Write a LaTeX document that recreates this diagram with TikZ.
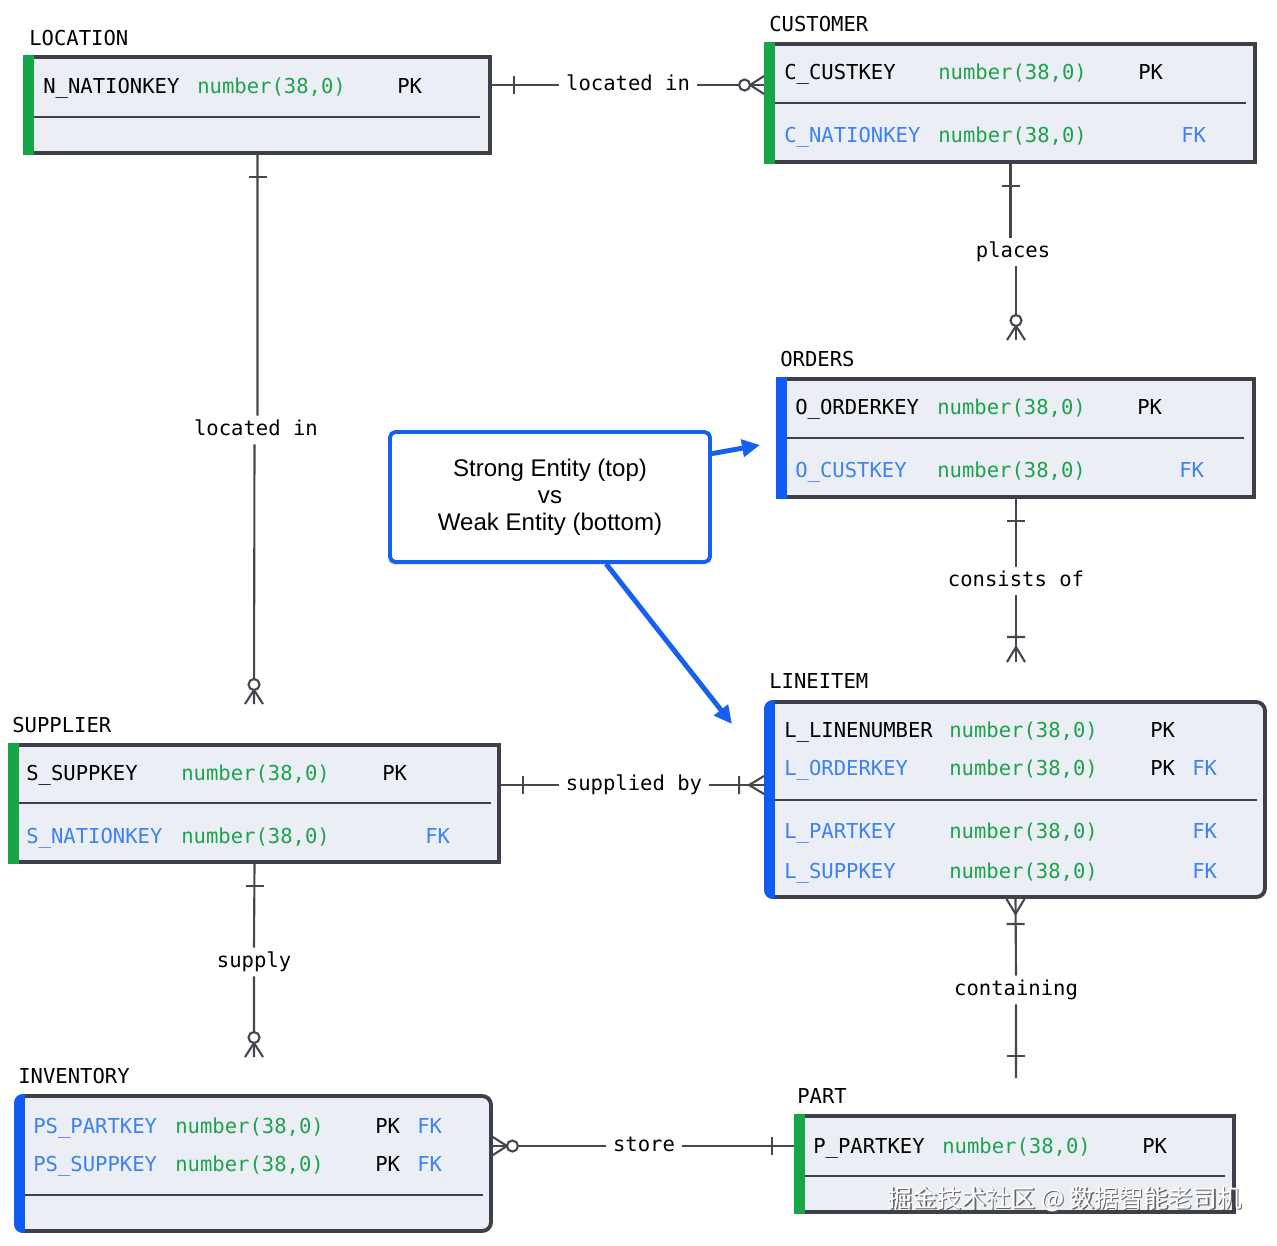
\documentclass[tikz,border=0pt]{standalone}
\usepackage{fontspec}
\setmainfont{Liberation Sans}
\setmonofont{DejaVu Sans Mono}
\newfontfamily\cjkfont{Noto Sans CJK SC}
\usetikzlibrary{fit,shadows,arrows.meta}

\definecolor{boxbg}{HTML}{ECEEF5}
\definecolor{boxline}{HTML}{3E4049}
\definecolor{strongbar}{HTML}{17A647}
\definecolor{weakbar}{HTML}{0F5CF2}
\definecolor{typegreen}{HTML}{1DA24D}
\definecolor{keyblue}{HTML}{3D82F0}
\definecolor{noteblue}{HTML}{1560F0}
\definecolor{relgray}{HTML}{45474F}

\begin{document}
\begin{tikzpicture}[x=0.02cm, y=-0.02cm,
    entity/.style={draw=boxline, line width=2.2pt, fill=boxbg, inner sep=0pt},
    enttitle/.style={anchor=base west, inner sep=0pt, font=\ttfamily\fontsize{11.7}{14}\selectfont},
    colcell/.style={anchor=base west, inner sep=0pt, font=\ttfamily\fontsize{11.7}{14}\selectfont},
    divider/.style={boxline, line width=1.3pt},
    relline/.style={draw=relgray, line width=1.2pt},
    rellabel/.style={font=\ttfamily\fontsize{11.7}{14}\selectfont, text height=9pt, text depth=3pt, inner xsep=4pt, inner ysep=2pt},
    notebox/.style={draw=noteblue, line width=2.2pt, fill=white, rounded corners=3pt, minimum width=6.4cm, minimum height=2.6cm, align=center, font=\fontsize{13.7}{15.3}\selectfont, drop shadow={opacity=0.3, shadow xshift=-1pt, shadow yshift=-1.5pt}},
    notearrow/.style={noteblue, line width=2.8pt, -{Triangle[length=0.36cm, width=0.34cm]}},
    barone/.pic={\draw[relline] (22,-9) -- (22,9);},
    zeromany/.pic={\draw[relline] (0,-9) -- (14,0) -- (0,9);
        \draw[relline, fill=white] (19.5,0) circle[radius=5.5];},
    onemany/.pic={\draw[relline] (0,-9) -- (15,0) -- (0,9) (25,-9) -- (25,9);}]

    \useasboundingbox (0,0) rectangle (1277,1245);

    % LOCATION
    \node[enttitle] (location-t) at (29,45) {LOCATION};
    \node[entity, fit={(25,57) (490,153)}] (location) {};
    \fill[strongbar] (23,55) rectangle (34,155);
    \draw[divider] (34,117) -- (480,117);
    \foreach \yy/\cname/\ink/\pk/\fk in {93/N\_NATIONKEY/black/PK/{}} {
        \node[colcell, text=\ink] (location-n\yy) at (43,\yy) {\cname};
        \node[colcell, text=typegreen] (location-t\yy) at (197,\yy) {number(38,0)};
        \node[colcell] (location-p\yy) at (397,\yy) {\pk};
    }

    % CUSTOMER
    \node[enttitle] (customer-t) at (769,31) {CUSTOMER};
    \node[entity, fit={(766,44) (1255,162)}] (customer) {};
    \fill[strongbar] (764,42) rectangle (775,164);
    \draw[divider] (775,103) -- (1246,103);
    \foreach \yy/\cname/\ink/\pk/\fk in {79/C\_CUSTKEY/black/PK/{}, 142/C\_NATIONKEY/keyblue/{}/FK} {
        \node[colcell, text=\ink] (customer-n\yy) at (784,\yy) {\cname};
        \node[colcell, text=typegreen] (customer-t\yy) at (938,\yy) {number(38,0)};
        \node[colcell] (customer-p\yy) at (1138,\yy) {\pk};
        \node[colcell, text=keyblue] (customer-f\yy) at (1181,\yy) {\fk};
    }

    % ORDERS
    \node[enttitle] (orders-t) at (780,366) {ORDERS};
    \node[entity, fit={(778,379) (1254,497)}] (orders) {};
    \fill[weakbar] (776,377) rectangle (787,499);
    \draw[divider] (787,438) -- (1244,438);
    \foreach \yy/\cname/\ink/\pk/\fk in {414/O\_ORDERKEY/black/PK/{}, 477/O\_CUSTKEY/keyblue/{}/FK} {
        \node[colcell, text=\ink] (orders-n\yy) at (795,\yy) {\cname};
        \node[colcell, text=typegreen] (orders-t\yy) at (937,\yy) {number(38,0)};
        \node[colcell] (orders-p\yy) at (1137,\yy) {\pk};
        \node[colcell, text=keyblue] (orders-f\yy) at (1179,\yy) {\fk};
    }

    % LINEITEM
    \node[enttitle] (lineitem-t) at (769,688) {LINEITEM};
    \node[entity, rounded corners=5pt, fit={(766,702) (1265,897)}] (lineitem) {};
    \begin{scope}
        \clip[rounded corners=5pt] (764,700) rectangle (1267,899);
        \fill[weakbar] (764,700) rectangle (775,899);
    \end{scope}
    \draw[divider] (775,800) -- (1257,800);
    \foreach \yy/\cname/\ink/\pk/\fk in {737/L\_LINENUMBER/black/PK/{}, 775/L\_ORDERKEY/keyblue/PK/FK,
            838/L\_PARTKEY/keyblue/{}/FK, 878/L\_SUPPKEY/keyblue/{}/FK} {
        \node[colcell, text=\ink] (lineitem-n\yy) at (784,\yy) {\cname};
        \node[colcell, text=typegreen] (lineitem-t\yy) at (949,\yy) {number(38,0)};
        \node[colcell] (lineitem-p\yy) at (1150,\yy) {\pk};
        \node[colcell, text=keyblue] (lineitem-f\yy) at (1192,\yy) {\fk};
    }

    % SUPPLIER
    \node[enttitle] (supplier-t) at (12,732) {SUPPLIER};
    \node[entity, fit={(10,745) (499,862)}] (supplier) {};
    \fill[strongbar] (8,743) rectangle (19,864);
    \draw[divider] (19,803) -- (491,803);
    \foreach \yy/\cname/\ink/\pk/\fk in {780/S\_SUPPKEY/black/PK/{}, 843/S\_NATIONKEY/keyblue/{}/FK} {
        \node[colcell, text=\ink] (supplier-n\yy) at (26,\yy) {\cname};
        \node[colcell, text=typegreen] (supplier-t\yy) at (181,\yy) {number(38,0)};
        \node[colcell] (supplier-p\yy) at (382,\yy) {\pk};
        \node[colcell, text=keyblue] (supplier-f\yy) at (425,\yy) {\fk};
    }

    % INVENTORY
    \node[enttitle] (inventory-t) at (18,1083) {INVENTORY};
    \node[entity, rounded corners=5pt, fit={(16,1096) (491,1231)}] (inventory) {};
    \begin{scope}
        \clip[rounded corners=5pt] (14,1094) rectangle (493,1233);
        \fill[weakbar] (14,1094) rectangle (25,1233);
    \end{scope}
    \draw[divider] (25,1195) -- (483,1195);
    \foreach \yy/\cname/\ink/\pk/\fk in {1133/PS\_PARTKEY/keyblue/PK/FK, 1171/PS\_SUPPKEY/keyblue/PK/FK} {
        \node[colcell, text=\ink] (inventory-n\yy) at (33,\yy) {\cname};
        \node[colcell, text=typegreen] (inventory-t\yy) at (175,\yy) {number(38,0)};
        \node[colcell] (inventory-p\yy) at (375,\yy) {\pk};
        \node[colcell, text=keyblue] (inventory-f\yy) at (417,\yy) {\fk};
    }

    % PART
    \node[enttitle] (part-t) at (797,1103) {PART};
    \node[entity, fit={(796,1116) (1234,1212)}] (part) {};
    \fill[strongbar] (794,1114) rectangle (805,1214);
    \draw[divider] (805,1176) -- (1225,1176);
    \foreach \yy/\cname/\ink/\pk/\fk in {1153/P\_PARTKEY/black/PK/{}} {
        \node[colcell, text=\ink] (part-n\yy) at (813,\yy) {\cname};
        \node[colcell, text=typegreen] (part-t\yy) at (942,\yy) {number(38,0)};
        \node[colcell] (part-p\yy) at (1142,\yy) {\pk};
    }

    % relationships
    \node[rellabel] (locin) at (628,85) {located in};
    \draw[relline] (location.east |- locin) -- (locin.west) (locin.east) -- (customer.west |- locin);
    \pic at (location.east |- locin) {barone};
    \pic[rotate=180] at (customer.west |- locin) {zeromany};

    \node[rellabel] (places) at (1013,252) {places};
    \coordinate (placesend) at (1016,340);
    \draw[relline] (customer.south) -- (customer.south |- places.north) (places.south -| orders.north) -- (placesend);
    \pic[rotate=-90] at (customer.south) {barone};
    \pic[rotate=90] at (placesend) {zeromany};

    \node[rellabel] (consists) at (1016,581) {consists of};
    \coordinate (consistsend) at (1016,662);
    \draw[relline] (orders.south) -- (consists.north) (consists.south) -- (consistsend);
    \pic[rotate=-90] at (orders.south) {barone};
    \pic[rotate=90] at (consistsend) {onemany};

    \node[rellabel] (locin2) at (256,430) {located in};
    \coordinate (locin2end) at (254,704);
    \draw[relline] (location.south) -- (location.south |- locin2.north) (locin2.south -| supplier.north) -- (locin2end);
    \pic[rotate=-90] at (location.south) {barone};
    \pic[rotate=90] at (locin2end) {zeromany};

    \node[rellabel] (suppby) at (634,785) {supplied by};
    \draw[relline] (supplier.east |- suppby) -- (suppby.west) (suppby.east) -- (lineitem.west |- suppby);
    \pic at (supplier.east |- suppby) {barone};
    \pic[rotate=180] at (lineitem.west |- suppby) {onemany};

    \node[rellabel] (supply) at (254,962) {supply};
    \coordinate (supplyend) at (254,1057);
    \draw[relline] (supplier.south) -- (supply.north) (supply.south) -- (supplyend);
    \pic[rotate=-90] at (supplier.south) {barone};
    \pic[rotate=90] at (supplyend) {zeromany};

    \node[rellabel] (containing) at (1016,990) {containing};
    \coordinate (containingend) at (1016,1078);
    \draw[relline] (lineitem.south) -- (containing.north) (containing.south) -- (containingend);
    \pic[rotate=-90] at (lineitem.south) {onemany};
    \pic[rotate=90] at (containingend) {barone};

    \node[rellabel] (store) at (644,1146) {store};
    \draw[relline] (inventory.east |- store) -- (store.west) (store.east) -- (part.west |- store);
    \pic at (inventory.east |- store) {zeromany};
    \pic[rotate=180] at (part.west |- store) {barone};

    % note with arrows
    \node[notebox] (note) at (550,497) {Strong Entity (top)\\vs\\Weak Entity (bottom)};
    \coordinate (ordhint) at (760,445);
    \coordinate (linehint) at (732,724);
    \draw[notearrow] (note.15) -- (ordhint);
    \draw[notearrow] (note.-50) -- (linehint);

    % watermark
    \node[font=\cjkfont\fontsize{14}{16}\selectfont, text=black!60] (wmshadow) at (1066.5,1200.5) {掘金技术社区 @ 数据智能老司机};
    \node[font=\cjkfont\fontsize{14}{16}\selectfont, text=white] (wm) at (1065,1199) {掘金技术社区 @ 数据智能老司机};
\end{tikzpicture}
\end{document}
